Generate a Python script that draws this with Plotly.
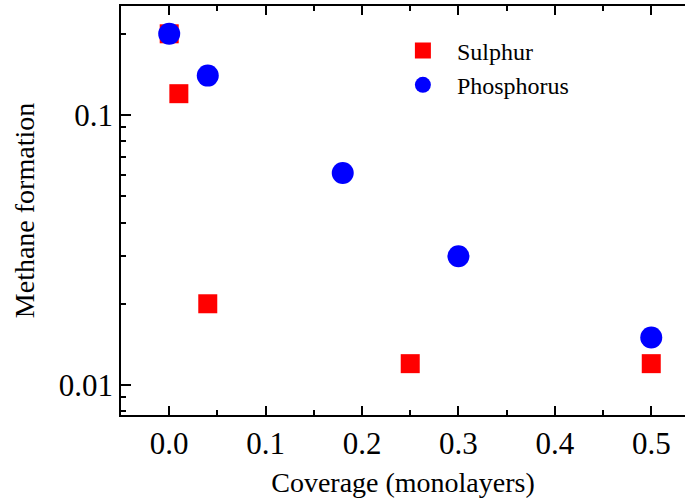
import plotly.graph_objects as go

sulphur_x = [0.0, 0.01, 0.04, 0.25, 0.5]
sulphur_y = [0.2, 0.12, 0.02, 0.012, 0.012]
phos_x = [0.0, 0.04, 0.18, 0.3, 0.5]
phos_y = [0.2, 0.14, 0.061, 0.030, 0.015]

y_tickvals = [0.01, 0.1]
y_ticktext = ["0.01", "0.1"]
y_minor = [0.008, 0.009, 0.02, 0.03, 0.04, 0.05, 0.06, 0.07, 0.08, 0.09, 0.2]
x_tickvals = [0.0, 0.1, 0.2, 0.3, 0.4, 0.5]
x_ticktext = ["0.0", "0.1", "0.2", "0.3", "0.4", "0.5"]
x_minor = [-0.05, 0.05, 0.15, 0.25, 0.35, 0.45]

FONT = "Liberation Serif"
tickfont = dict(family=FONT, size=31, color="black")

fig = go.Figure()
fig.add_trace(go.Scatter(x=sulphur_x, y=sulphur_y, mode="markers", name="Sulphur",
                         marker=dict(symbol="square", size=19, color="#ff0000")))
fig.add_trace(go.Scatter(x=phos_x, y=phos_y, mode="markers", name="Phosphorus",
                         marker=dict(symbol="circle", size=22, color="#0000ff")))

fig.update_layout(
    width=685, height=498,
    margin=dict(l=121, r=0, t=6, b=83),
    paper_bgcolor="white", plot_bgcolor="white",
    showlegend=True,
    legend=dict(x=0.475, y=0.945, xanchor="left", yanchor="top",
                bgcolor="rgba(0,0,0,0)", font=dict(family=FONT, size=24, color="black"),
                itemwidth=58, tracegroupgap=0),
    xaxis=dict(range=[-0.05, 0.535], tickvals=x_tickvals, ticktext=x_ticktext,
               tickfont=tickfont, mirror="allticks",
               ticks="inside", ticklen=9, tickwidth=1.5, tickcolor="black",
               showline=True, linecolor="black", linewidth=1.5,
               showgrid=False, zeroline=False,
               minor=dict(tickmode="array", tickvals=x_minor,
                          ticks="inside", ticklen=5, tickwidth=1.5, tickcolor="black", showgrid=False),
               title=dict(text="Coverage (monolayers)", font=dict(family=FONT, size=28, color="black"), standoff=14)),
    yaxis=dict(type="log", range=[-2.111, -0.596], tickvals=y_tickvals, ticktext=y_ticktext,
               tickfont=tickfont,
               ticks="inside", ticklen=10, tickwidth=1.5, tickcolor="black",
               showline=True, linecolor="black", linewidth=1.5,
               showgrid=False, zeroline=False,
               minor=dict(tickmode="array", tickvals=y_minor, ticks="inside", ticklen=5,
                          tickwidth=1.5, tickcolor="black", showgrid=False),
               title=dict(text="Methane formation", font=dict(family=FONT, size=28, color="black"), standoff=16)),
)

fig.write_html("out.html")
